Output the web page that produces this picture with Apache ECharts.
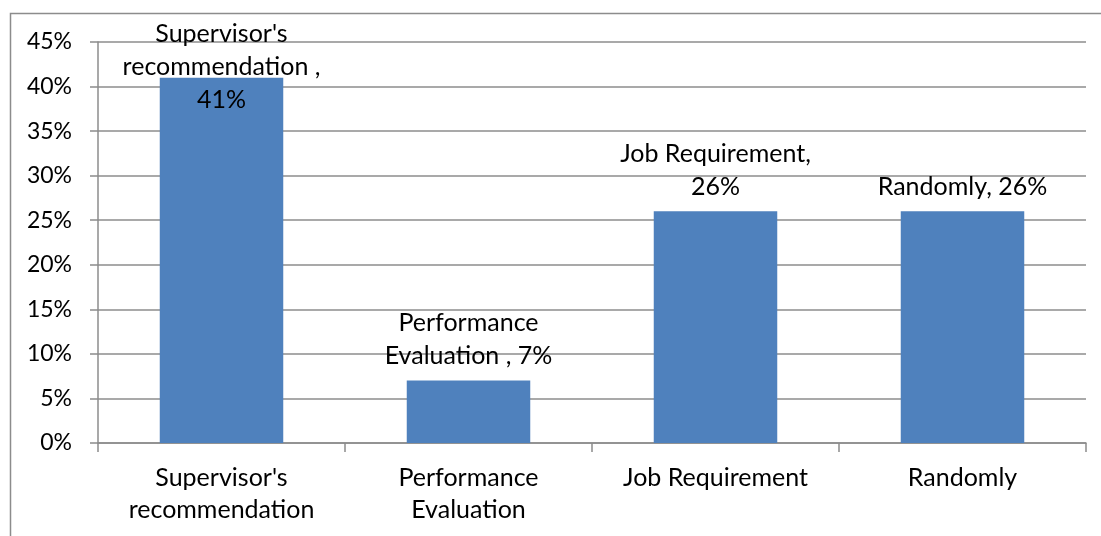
<!DOCTYPE html>
<html>
<head>
<meta charset="utf-8">
<script src="https://cdn.jsdelivr.net/npm/echarts@6/dist/echarts.min.js"></script>
<style>
  html, body { margin: 0; padding: 0; background: #fff; }
  #chart { width: 1101px; height: 536px; }
</style>
</head>
<body>
<div id="chart"></div>
<script>
// Categories shown along the x axis
const categories = ["Supervisor's\nrecommendation", "Performance\nEvaluation", "Job Requirement", "Randomly"];
// Share of respondents for each selection method (percent)
const values = [41, 7, 26, 26];
// Text of the data label above each bar (value appended from `values`)
const labelNames = ["Supervisor's\nrecommendation ,", "Performance\nEvaluation ,", "Job Requirement,", "Randomly,"];
const labelJoin = ["\n", " ", "\n", " "];
// Label offsets relative to the top of each bar
const labelOffsets = [[0, 47], [0, 0], [0, 0], [0, 0]];
// Y axis range (percent)
const yMin = 0, yMax = 45, yStep = 5;

const FONT = 'Lato';
const chart = echarts.init(document.getElementById('chart'));

const data = values.map((v, i) => ({
  value: v,
  label: {
    formatter: labelNames[i] + labelJoin[i] + v + '%',
    offset: labelOffsets[i]
  }
}));

chart.setOption({
  animation: false,
  backgroundColor: '#ffffff',
  textStyle: { fontFamily: FONT },
  graphic: [{
    type: 'rect',
    shape: { x: 10.5, y: 13.5, width: 1200, height: 700 },
    style: { fill: 'none', stroke: '#8c8c8c', lineWidth: 1.5 },
    silent: true
  }],
  grid: { left: 98, right: 15, top: 42, bottom: 93, containLabel: false },
  xAxis: {
    type: 'category',
    data: categories,
    boundaryGap: true,
    axisLine: { show: true, lineStyle: { color: '#8c8c8c', width: 1.5 } },
    axisTick: { show: true, length: 9, alignWithLabel: false, lineStyle: { color: '#8c8c8c', width: 1.5 } },
    axisLabel: { color: '#000', fontFamily: FONT, fontSize: 25, lineHeight: 32, margin: 19, interval: 0 },
    splitLine: { show: false }
  },
  yAxis: {
    type: 'value',
    min: yMin, max: yMax, interval: yStep,
    axisLine: { show: true, lineStyle: { color: '#8c8c8c', width: 1.5 } },
    axisTick: { show: true, length: 8, lineStyle: { color: '#8c8c8c', width: 1.5 } },
    axisLabel: { color: '#000', fontFamily: FONT, fontSize: 23, margin: 26, formatter: v => v + '%' },
    splitLine: { show: true, lineStyle: { color: '#8c8c8c', width: 1.5 } }
  },
  series: [{
    type: 'bar',
    data: data,
    barWidth: '50%',
    itemStyle: { color: '#4F81BD' },
    label: {
      show: true,
      position: 'top',
      distance: 8,
      color: '#000',
      fontFamily: FONT,
      fontSize: 25,
      lineHeight: 33,
      align: 'center'
    }
  }]
});
</script>
</body>
</html>
